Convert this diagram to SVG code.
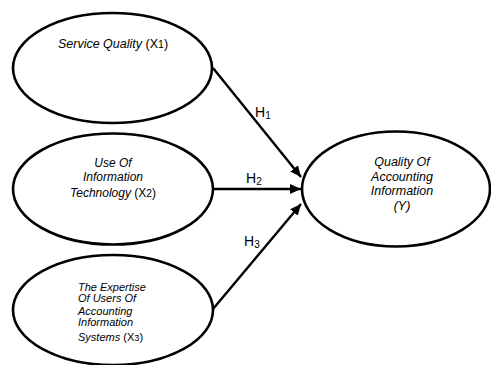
<svg xmlns="http://www.w3.org/2000/svg" width="491" height="365" viewBox="0 0 491 365">
<style>
.node{fill:#fff;stroke:#000;stroke-width:2.6}
.t{font-family:"Liberation Sans",Arial,sans-serif;font-style:italic;fill:#000}
.up{font-style:normal}
.sm{font-size:0.85em}
.edge{stroke:#000;stroke-width:2.4;fill:none}
.h{font-family:"Liberation Sans",Arial,sans-serif;font-size:14px;fill:#000}
</style>
<defs>
<marker id="arr" markerUnits="userSpaceOnUse" markerWidth="12" markerHeight="10" refX="11" refY="5" orient="auto">
<path d="M0,0 L11,5 L0,10 z" fill="#000"/>
</marker>
</defs>
<rect width="491" height="365" fill="#fff"/>
<g id="x1">
<ellipse class="node" cx="112.5" cy="68" rx="99.5" ry="55"/>
<text class="t" x="113" y="48" font-size="12.5" text-anchor="middle">Service Quality <tspan class="up">(X<tspan class="sm">1</tspan>)</tspan></text>
</g>
<g id="x2">
<ellipse class="node" cx="113" cy="189" rx="100" ry="55.5"/>
<text class="t" font-size="12" text-anchor="middle"><tspan x="113" y="167">Use Of</tspan><tspan x="113" y="181">Information</tspan><tspan x="113" y="197">Technology <tspan class="up">(X<tspan class="sm">2</tspan>)</tspan></tspan></text>
</g>
<g id="x3">
<ellipse class="node" cx="113" cy="310" rx="100" ry="55"/>
<text class="t" font-size="11"><tspan x="78" y="291">The Expertise</tspan><tspan x="78" y="302">Of Users Of</tspan><tspan x="78" y="315">Accounting</tspan><tspan x="78" y="326">Information</tspan><tspan x="78" y="341">Systems <tspan class="up">(X<tspan class="sm">3</tspan>)</tspan></tspan></text>
</g>
<g id="y">
<ellipse class="node" cx="396" cy="189" rx="94" ry="57.5"/>
<text class="t" font-size="12.5" text-anchor="middle"><tspan x="402" y="166">Quality Of</tspan><tspan x="402" y="181">Accounting</tspan><tspan x="402" y="195">Information</tspan><tspan x="402" y="210">(Y)</tspan></text>
</g>
<g id="connectors">
<line class="edge" x1="213" y1="68" x2="301" y2="177" marker-end="url(#arr)"/>
<line class="edge" x1="213" y1="189" x2="301" y2="189" marker-end="url(#arr)"/>
<line class="edge" x1="213" y1="309" x2="301" y2="204" marker-end="url(#arr)"/>
<text class="h" x="255" y="117">H<tspan font-size="10" dy="2">1</tspan></text>
<text class="h" x="246" y="183">H<tspan font-size="10" dy="2">2</tspan></text>
<text class="h" x="244" y="246">H<tspan font-size="10" dy="2">3</tspan></text>
</g>
</svg>
